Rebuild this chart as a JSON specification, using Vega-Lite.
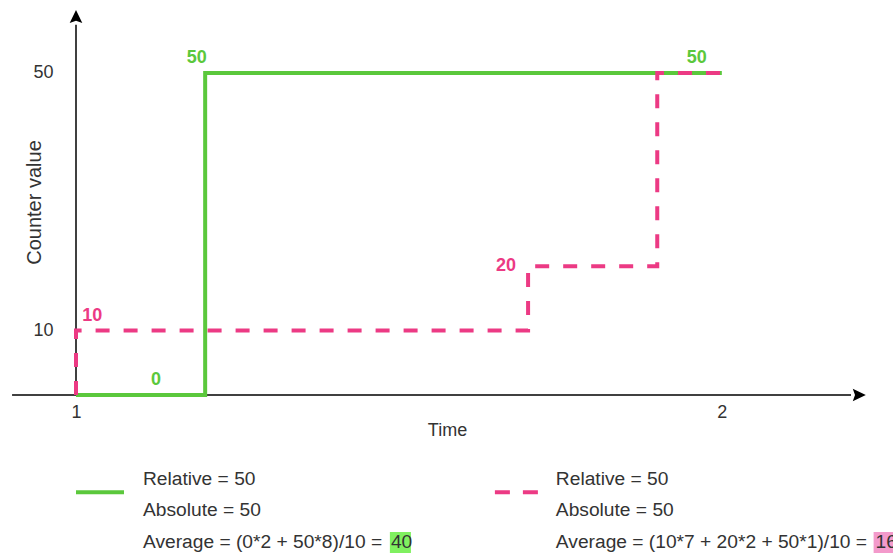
{
  "$schema": "https://vega.github.io/schema/vega-lite/v6.json",
  "width": 775,
  "height": 380,
  "autosize": {"type": "none"},
  "padding": {"left": 76, "top": 15, "right": 42, "bottom": 158},
  "background": "white",
  "config": {"view": {"stroke": null}, "font": "Liberation Sans"},
  "datasets": {
    "series": [
      {"series": "green", "t": 1, "v": 0},
      {"series": "green", "t": 1.2, "v": 50},
      {"series": "green", "t": 2, "v": 50},
      {"series": "pink", "t": 1, "v": 0},
      {"series": "pink", "t": 1, "v": 10},
      {"series": "pink", "t": 1.7, "v": 20},
      {"series": "pink", "t": 1.9, "v": 50},
      {"series": "pink", "t": 2, "v": 50}
    ],
    "axislines": [
      {"t": 0.901, "t2": 2.2, "v": 0, "v2": 0},
      {"t": 1, "t2": 1, "v": 0, "v2": 57.5}
    ],
    "arrows": [
      {"dir": "right", "t": 2.209, "v": 0},
      {"dir": "up", "t": 1, "v": 58.39}
    ],
    "labels": [
      {"series": "green", "t": 1.124, "v": 0, "label": "0"},
      {"series": "green", "t": 1.187, "v": 50, "label": "50"},
      {"series": "green", "t": 1.961, "v": 50, "label": "50"},
      {"series": "pink", "t": 1.025, "v": 10, "label": "10"}
    ],
    "label20": [
      {"series": "pink", "t": 1.7, "v": 20, "label": "20"}
    ],
    "legendlines": [
      {"series": "green", "t": 1.0, "t2": 1.0743, "v": -15.1},
      {"series": "pink", "t": 1.6486, "t2": 1.7167, "v": -15.1}
    ],
    "legendtext": [
      {"t": 1.1037, "v": -12.97, "text": "Relative = 50"},
      {"t": 1.1037, "v": -17.86, "text": "Absolute = 50"},
      {"t": 1.1037, "v": -22.83, "text": "Average = (0*2 + 50*8)/10 ="},
      {"t": 1.743, "v": -12.97, "text": "Relative = 50"},
      {"t": 1.743, "v": -17.86, "text": "Absolute = 50"},
      {"t": 1.743, "v": -22.83, "text": "Average = (10*7 + 20*2 + 50*1)/10 ="}
    ],
    "highlights": [
      {"series": "green", "t": 1.486, "t2": 1.5186, "v": -21.27, "v2": -24.53, "text": "40", "tt": 1.4876, "vt": -22.83},
      {"series": "pink", "t": 2.235, "t2": 2.27, "v": -21.27, "v2": -24.53, "text": "16", "tt": 2.238, "vt": -22.83}
    ]
  },
  "encoding": {
    "x": {
      "field": "t",
      "type": "quantitative",
      "scale": {"domain": [1, 2.2], "nice": false, "zero": false},
      "axis": {
        "values": [1, 2],
        "format": "d",
        "ticks": false,
        "domain": false,
        "grid": false,
        "labelFlush": false,
        "labelFontSize": 18,
        "labelColor": "#333333",
        "labelPadding": 8,
        "title": "Time",
        "titleFontSize": 18,
        "titleFontWeight": "normal",
        "titleColor": "#333333",
        "titleX": 371,
        "titleY": 35,
        "titleBaseline": "middle",
        "titleAlign": "center"
      }
    },
    "y": {
      "field": "v",
      "type": "quantitative",
      "scale": {"domain": [0, 59], "nice": false, "zero": false},
      "axis": {
        "values": [10, 50],
        "format": "d",
        "ticks": false,
        "domain": false,
        "grid": false,
        "labelFontSize": 18,
        "labelColor": "#333333",
        "labelPadding": 23,
        "title": "Counter value",
        "titleFontSize": 20,
        "titleFontWeight": "normal",
        "titleColor": "#333333",
        "titleX": -42,
        "titleY": 187,
        "titleAngle": 270,
        "titleBaseline": "middle",
        "titleAlign": "center"
      }
    }
  },
  "layer": [
    {
      "data": {"name": "axislines"},
      "mark": {"type": "rule", "color": "#000000", "strokeWidth": 1.5},
      "encoding": {"x2": {"field": "t2"}, "y2": {"field": "v2"}}
    },
    {
      "data": {"name": "arrows"},
      "mark": {"type": "point", "filled": true, "color": "#000000", "opacity": 1, "size": 324, "strokeWidth": 0},
      "encoding": {
        "shape": {
          "field": "dir",
          "type": "nominal",
          "scale": {
            "domain": ["up", "right"],
            "range": ["M0,-1 L0.7,0.45 L0,0.2 L-0.7,0.45 Z", "M1,0 L-0.45,0.7 L-0.2,0 L-0.45,-0.7 Z"]
          },
          "legend": null
        }
      }
    },
    {
      "data": {"name": "series"},
      "transform": [{"filter": "datum.series === 'green'"}],
      "mark": {"type": "line", "interpolate": "step-after", "color": "#5BC83C", "strokeWidth": 4, "strokeJoin": "miter", "strokeCap": "butt"},
      "encoding": {}
    },
    {
      "data": {"name": "series"},
      "transform": [{"filter": "datum.series === 'pink'"}],
      "mark": {"type": "line", "interpolate": "step-after", "color": "#EC3A84", "strokeWidth": 4, "strokeDash": [14, 14], "strokeJoin": "miter", "strokeCap": "butt"},
      "encoding": {}
    },
    {
      "data": {"name": "labels"},
      "transform": [{"filter": "datum.series === 'green'"}],
      "mark": {"type": "text", "fontSize": 18, "fontWeight": "bold", "baseline": "middle", "align": "center", "dy": -15, "color": "#5BC83C"},
      "encoding": {"text": {"field": "label"}}
    },
    {
      "data": {"name": "labels"},
      "transform": [{"filter": "datum.series === 'pink'"}],
      "mark": {"type": "text", "fontSize": 18, "fontWeight": "bold", "baseline": "middle", "align": "center", "dy": -15, "color": "#EC3A84"},
      "encoding": {"text": {"field": "label"}}
    },
    {
      "data": {"name": "label20"},
      "mark": {"type": "text", "fontSize": 18, "fontWeight": "bold", "baseline": "middle", "align": "right", "dx": -12, "color": "#EC3A84"},
      "encoding": {"text": {"field": "label"}}
    },
    {
      "data": {"name": "legendlines"},
      "transform": [{"filter": "datum.series === 'green'"}],
      "mark": {"type": "rule", "color": "#5BC83C", "strokeWidth": 4},
      "encoding": {"x2": {"field": "t2"}}
    },
    {
      "data": {"name": "legendlines"},
      "transform": [{"filter": "datum.series === 'pink'"}],
      "mark": {"type": "rule", "color": "#EC3A84", "strokeWidth": 4, "strokeDash": [15, 13]},
      "encoding": {"x2": {"field": "t2"}}
    },
    {
      "data": {"name": "legendtext"},
      "mark": {"type": "text", "fontSize": 19.2, "align": "left", "baseline": "middle", "color": "#333333"},
      "encoding": {"text": {"field": "text"}}
    },
    {
      "data": {"name": "highlights"},
      "transform": [{"filter": "datum.series === 'green'"}],
      "mark": {"type": "rect", "color": "#80F060"},
      "encoding": {"x2": {"field": "t2"}, "y2": {"field": "v2"}}
    },
    {
      "data": {"name": "highlights"},
      "transform": [{"filter": "datum.series === 'pink'"}],
      "mark": {"type": "rect", "color": "#F39ACB"},
      "encoding": {"x2": {"field": "t2"}, "y2": {"field": "v2"}}
    },
    {
      "data": {"name": "highlights"},
      "mark": {"type": "text", "fontSize": 19.2, "align": "left", "baseline": "middle", "color": "#333333"},
      "encoding": {
        "x": {"field": "tt", "type": "quantitative"},
        "y": {"field": "vt", "type": "quantitative"},
        "text": {"field": "text"}
      }
    }
  ]
}
